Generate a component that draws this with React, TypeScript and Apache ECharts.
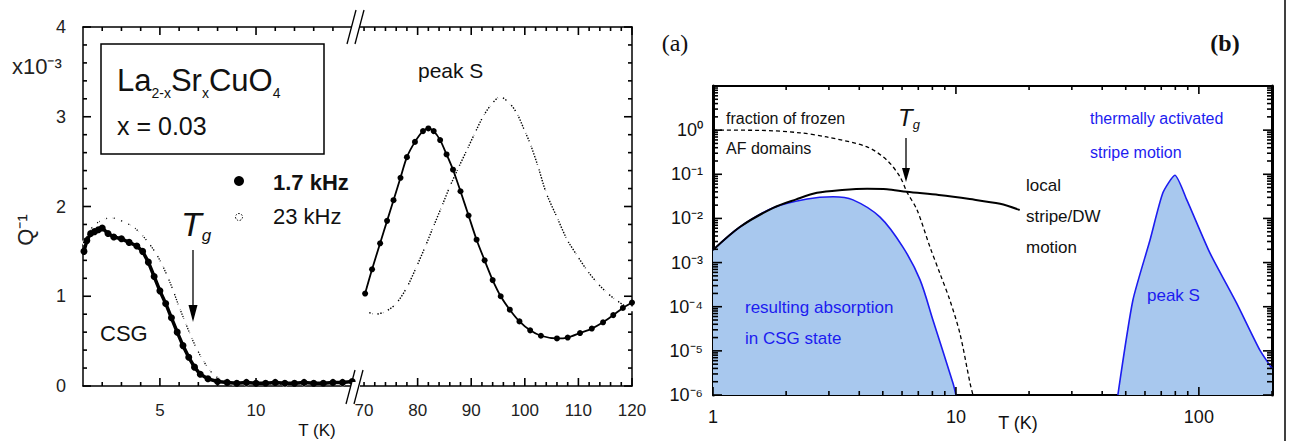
import React, { useEffect, useRef } from 'react';
import * as echarts from 'echarts';

const FONT = '"Liberation Sans", Arial, Helvetica, sans-serif';
const SERIF = '"Liberation Serif", "Times New Roman", serif';

// ---------- Left panel: Q^-1 (x10^-3) vs T ----------
// low-temperature segment (1..15 K)
const lowT17 = [1.05, 1.2, 1.4, 1.6, 1.8, 2.0, 2.3, 2.6, 3.0, 3.4, 3.8, 4.1, 4.4, 4.7, 5.0, 5.3, 5.6, 5.9, 6.2, 6.5, 6.8, 7.1, 7.5, 8.0, 8.5, 9.0, 9.5, 10, 10.5, 11, 11.5, 12, 12.5, 13, 13.5, 14, 14.5, 15];
const lowQ17 = [1.50, 1.62, 1.70, 1.72, 1.74, 1.76, 1.70, 1.66, 1.64, 1.60, 1.56, 1.50, 1.38, 1.22, 1.06, 0.92, 0.76, 0.60, 0.45, 0.32, 0.21, 0.13, 0.08, 0.05, 0.04, 0.03, 0.04, 0.03, 0.03, 0.04, 0.03, 0.03, 0.04, 0.03, 0.03, 0.04, 0.04, 0.05];
const lowT23 = [1.1, 1.3, 1.6, 2.0, 2.4, 2.8, 3.2, 3.6, 4.0, 4.4, 4.8, 5.1, 5.4, 5.7, 6.0, 6.3, 6.6, 6.9, 7.2, 7.5, 7.8, 8.2, 8.8, 9.5, 10.5, 11.5, 12.5, 13.5, 14.5];
const lowQ23 = [1.60, 1.72, 1.80, 1.85, 1.88, 1.86, 1.82, 1.78, 1.70, 1.60, 1.48, 1.36, 1.22, 1.06, 0.88, 0.72, 0.56, 0.42, 0.30, 0.20, 0.12, 0.07, 0.04, 0.03, 0.03, 0.02, 0.03, 0.03, 0.03];
// high-temperature segment (70..120 K)
const highT17 = [70.2, 71.5, 73, 74.3, 75.5, 76.8, 78, 79.5, 81, 82, 83, 84.2, 85.4, 86.6, 88, 89.5, 91, 92.5, 94, 95.5, 97.2, 99, 101, 103, 106, 108, 110.3, 112.5, 114.6, 116.5, 118.3, 120];
const highQ17 = [1.03, 1.30, 1.59, 1.84, 2.07, 2.32, 2.55, 2.72, 2.84, 2.87, 2.84, 2.74, 2.58, 2.41, 2.17, 1.90, 1.63, 1.40, 1.18, 1.00, 0.85, 0.72, 0.62, 0.56, 0.53, 0.54, 0.59, 0.64, 0.71, 0.79, 0.87, 0.93];
const highT23 = [70.5, 72, 74, 76, 78, 79.8, 81.4, 82.9, 84.5, 86, 87.6, 89.2, 90.7, 92.2, 93.8, 95.4, 97, 98.5, 100, 101, 102.5, 104, 106, 107.9, 109.8, 111.6, 113.5, 115.3, 117, 119, 120];
const highQ23 = [0.83, 0.80, 0.83, 0.92, 1.10, 1.33, 1.55, 1.77, 2.00, 2.22, 2.43, 2.63, 2.82, 3.00, 3.14, 3.22, 3.16, 3.04, 2.84, 2.70, 2.44, 2.15, 1.88, 1.63, 1.45, 1.29, 1.15, 1.04, 0.96, 0.88, 0.86];

// left panel ticks
const lowMajor = [5, 10];
const lowMinor = [2, 3, 4, 6, 7, 8, 9, 11, 12, 13, 14, 15];
const highMajor = [80, 90, 100, 110, 120];
const highMinor = [70, 72, 74, 76, 78, 82, 84, 86, 88, 92, 94, 96, 98, 102, 104, 106, 108, 112, 114, 116, 118];
const highLabels = [70, 80, 90, 100, 110, 120];
const qMajor = [0, 1, 2, 3, 4];
const qMinor = [0.2, 0.4, 0.6, 0.8, 1.2, 1.4, 1.6, 1.8, 2.2, 2.4, 2.6, 2.8, 3.2, 3.4, 3.6, 3.8];

// ---------- Right panel: schematic, log-log ----------
const fracT = [1, 1.56, 2.28, 2.94, 4.31, 5.2, 5.89, 6.28, 6.92, 7.82, 8.59, 9.44, 10.38, 11.43, 11.75];
const fracV = [1.0, 0.99, 0.87, 0.70, 0.417, 0.209, 0.087, 0.040, 0.0155, 0.00224, 5.7e-4, 1.41e-4, 2.5e-5, 1.86e-6, 1e-6];
const localT = [1, 1.29, 1.77, 2.2, 2.68, 3.4, 4.31, 5.2, 6.28, 8.5, 11.4, 15.2, 18.3];
const localV = [1.93e-3, 6.4e-3, 0.0174, 0.027, 0.038, 0.044, 0.047, 0.046, 0.040, 0.034, 0.0275, 0.0214, 0.0155];
const csgT = [1, 1.29, 1.77, 2.44, 3.12, 3.77, 4.87, 6.05, 7.11, 8.04, 9.72, 10.0];
const csgV = [1.93e-3, 6.4e-3, 0.0174, 0.0275, 0.031, 0.0263, 0.0107, 2.24e-3, 4.1e-4, 5.0e-5, 1.86e-6, 1e-6];
const peakT = [46.4, 53.5, 62.9, 71.1, 79.7, 89.3, 111, 143, 178, 200];
const peakV = [1e-6, 1.4e-4, 3.2e-3, 0.038, 0.095, 0.026, 1.66e-3, 1.2e-4, 1.05e-5, 4e-6];

const logXMajorRaw = [1, 10, 100];
const logXMinorRaw = [2, 3, 4, 5, 6, 7, 8, 9, 20, 30, 40, 50, 60, 70, 80, 90, 200];
const logYLabels = [-6, -5, -4, -3, -2, -1, 0];
const logYMajor = [-6, -5, -4, -3, -2, -1, 0, 1];
const logYMinorMult = [2, 3, 4, 5, 6, 7, 8, 9];

const SUP: Record<string, string> = { '-': '⁻', '0': '⁰', '1': '¹', '2': '²', '3': '³', '4': '⁴', '5': '⁵', '6': '⁶', '7': '⁷', '8': '⁸', '9': '⁹' };
const sup = (s: string) => s.split('').map((c) => SUP[c] || c).join('');

const pairs = (xs: number[], ys: number[]) => xs.map((x, i) => [x, ys[i]]);
const logPairs = (xs: number[], ys: number[]) => xs.map((x, i) => [Math.log10(x), Math.log10(ys[i])]);

function axis(grid: number, min: number, max: number, position: string, o: any = {}) {
  const a: any = {
    type: 'value', gridIndex: grid, min, max, position,
    axisLine: { show: o.line !== false, onZero: false, lineStyle: { color: '#000', width: o.lineWidth ?? 1.5 } },
    axisTick: { show: false },
    axisLabel: { show: false },
    splitLine: { show: false },
  };
  if (o.labels) {
    a.axisLabel = {
      show: true, customValues: o.labels, margin: o.margin ?? 10, fontSize: o.fontSize ?? 17,
      color: o.color ?? '#222', fontFamily: FONT,
    };
    if (o.fmt) a.axisLabel.formatter = o.fmt;
  }
  return a;
}

const GRIDS = [
  { left: 83, top: 27, width: 273, height: 359 },
  { left: 356, top: 27, width: 276, height: 359 },
  { left: 713, top: 86, width: 559, height: 309 },
];

const LOW_MIN = 1, LOW_MAX = 15.2, HIGH_MIN = 68.5, HIGH_MAX = 120;
const LX_MAX = Math.log10(200);
// axis ranges per grid: [xMin, xMax, yMin, yMax]
const RANGES = [
  [LOW_MIN, LOW_MAX, 0, 4],
  [HIGH_MIN, HIGH_MAX, 0, 4],
  [0, LX_MAX, -6, 1],
];
const logXMajor = logXMajorRaw.map((v) => Math.log10(v));
const logXMinor = logXMinorRaw.map((v) => Math.log10(v));
const logYMinor: number[] = [];
for (const n of logYLabels) for (const k of logYMinorMult) logYMinor.push(Math.log10(k) + n);

const xAxes = [
  axis(0, LOW_MIN, LOW_MAX, 'bottom', { labels: lowMajor, margin: 16 }),
  axis(0, LOW_MIN, LOW_MAX, 'top'),
  axis(1, HIGH_MIN, HIGH_MAX, 'bottom', { labels: highLabels, margin: 16 }),
  axis(1, HIGH_MIN, HIGH_MAX, 'top'),
  axis(2, 0, LX_MAX, 'bottom', {
    lineWidth: 2, labels: logXMajor, margin: 13, fontSize: 18, color: '#111',
    fmt: (v: number) => String(Math.round(Math.pow(10, v))),
  }),
  axis(2, 0, LX_MAX, 'top', { lineWidth: 2 }),
];

const yAxes = [
  axis(0, 0, 4, 'left', { labels: qMajor, margin: 17, fontSize: 18 }),
  axis(1, 0, 4, 'right'),
  axis(2, -6, 1, 'left', {
    lineWidth: 3, labels: logYLabels, margin: 10, fontSize: 18, color: '#111',
    fmt: (v: number) => '10' + sup(String(Math.round(v))),
  }),
  axis(2, -6, 1, 'right', { lineWidth: 3 }),
];

// tick specs: [axis dim, grid, values, length, sides]
const TICKS: any[] = [
  ['x', 0, lowMajor, 8, ['top', 'bottom']],
  ['x', 0, lowMinor, 4, ['top', 'bottom']],
  ['y', 0, qMajor, 8, ['left']],
  ['y', 0, qMinor, 4, ['left']],
  ['x', 1, highMajor, 8, ['top', 'bottom']],
  ['x', 1, highMinor, 4, ['top', 'bottom']],
  ['y', 1, qMajor, 8, ['right']],
  ['y', 1, qMinor, 4, ['right']],
  ['x', 2, logXMajor, 8, ['top', 'bottom']],
  ['x', 2, logXMinor, 4, ['top', 'bottom']],
  ['y', 2, logYMajor, 9, ['left', 'right']],
  ['y', 2, logYMinor, 5, ['left', 'right']],
];

const BLUE = '#1c1cf0';
const FILL = '#a8c8ee';

const series: any[] = [
  {
    name: '1.7 kHz', type: 'line', xAxisIndex: 0, yAxisIndex: 0, data: pairs(lowT17, lowQ17),
    symbol: 'circle', symbolSize: 7, itemStyle: { color: '#000' }, lineStyle: { color: '#000', width: 3.5 }, z: 4,
  },
  {
    name: '23 kHz', type: 'line', xAxisIndex: 0, yAxisIndex: 0, data: pairs(lowT23, lowQ23),
    symbol: 'emptyCircle', symbolSize: 4, itemStyle: { color: '#fff', borderColor: '#000', borderWidth: 1 },
    lineStyle: { color: '#000', width: 1.3, type: 'dotted' }, z: 3,
  },
  {
    name: '1.7 kHz', type: 'line', xAxisIndex: 2, yAxisIndex: 1, data: pairs(highT17, highQ17), smooth: 0.3,
    symbol: 'circle', symbolSize: 6, itemStyle: { color: '#000' }, lineStyle: { color: '#000', width: 1.8 }, z: 4,
  },
  {
    name: '23 kHz', type: 'line', xAxisIndex: 2, yAxisIndex: 1, data: pairs(highT23, highQ23), smooth: 0.3,
    symbol: 'emptyCircle', symbolSize: 3, itemStyle: { color: '#fff', borderColor: '#000', borderWidth: 0.8 },
    lineStyle: { color: '#000', width: 1.4, type: 'dotted' }, z: 3,
  },
  {
    name: 'resulting absorption in CSG state', type: 'line', xAxisIndex: 4, yAxisIndex: 2, data: logPairs(csgT, csgV),
    smooth: 0.3, symbol: 'none', lineStyle: { color: BLUE, width: 1.6 },
    areaStyle: { color: FILL, opacity: 1, origin: 'start' }, z: 1,
  },
  {
    name: 'peak S', type: 'line', xAxisIndex: 4, yAxisIndex: 2, data: logPairs(peakT, peakV),
    smooth: 0.2, symbol: 'none', lineStyle: { color: BLUE, width: 1.6 },
    areaStyle: { color: FILL, opacity: 1, origin: 'start' }, z: 1,
  },
  {
    name: 'local stripe/DW motion', type: 'line', xAxisIndex: 4, yAxisIndex: 2, data: logPairs(localT, localV),
    smooth: 0.3, symbol: 'none', lineStyle: { color: '#000', width: 2 }, z: 4,
  },
  {
    name: 'fraction of frozen AF domains', type: 'line', xAxisIndex: 4, yAxisIndex: 2, data: logPairs(fracT, fracV),
    smooth: 0.3, symbol: 'none', lineStyle: { color: '#000', width: 1.3, type: [4, 3] }, z: 4,
  },
];

const txt = (x: number, y: number, text: string, size: number, extra: any = {}) => ({
  type: 'text', x, y, z: 30, silent: true,
  style: { text, fontSize: size, fontFamily: FONT, fill: '#111', verticalAlign: 'middle', align: 'left', ...extra },
});
const seg = (x1: number, y1: number, x2: number, y2: number, w = 1.3) => ({
  type: 'line', z: 30, shape: { x1, y1, x2, y2 }, style: { stroke: '#000', lineWidth: w },
});
// a tick drawn as a small filled rectangle
const tickRect = (x: number, y: number, w: number, h: number) => ({
  type: 'rect', z: 35, shape: { x, y, width: w, height: h }, style: { fill: '#000' },
});

// tick marks placed with the same linear mapping as each grid's axes
function buildTicks() {
  const els: any[] = [];
  const T = 1.6; // tick thickness
  TICKS.forEach((t: any) => {
    const dim = t[0], g = t[1], values = t[2], len = t[3], sides = t[4];
    const r = GRIDS[g];
    const x0 = RANGES[g][0], x1 = RANGES[g][1], y0 = RANGES[g][2], y1 = RANGES[g][3];
    const bottom = r.top + r.height;
    const right = r.left + r.width;
    values.forEach((v: number) => {
      if (dim === 'x') {
        const p = r.left + ((v - x0) / (x1 - x0)) * r.width;
        if (sides.indexOf('bottom') >= 0) els.push(tickRect(p - T / 2, bottom - len, T, len));
        if (sides.indexOf('top') >= 0) els.push(tickRect(p - T / 2, r.top, T, len));
      } else {
        const p = bottom - ((v - y0) / (y1 - y0)) * r.height;
        if (sides.indexOf('left') >= 0) els.push(tickRect(r.left, p - T / 2, len, T));
        if (sides.indexOf('right') >= 0) els.push(tickRect(right - len, p - T / 2, len, T));
      }
    });
  });
  return els;
}

const graphic: any[] = [
  // axis breaks (left panel)
  { type: 'rect', z: 36, shape: { x: 351, y: 23, width: 9, height: 8 }, style: { fill: '#fff' } },
  { type: 'rect', z: 36, shape: { x: 351, y: 382, width: 9, height: 8 }, style: { fill: '#fff' } },
  { ...seg(347, 44, 356, 10), z: 37 },
  { ...seg(355, 44, 364, 10), z: 37 },
  { ...seg(346, 404, 355, 370), z: 37 },
  { ...seg(354, 404, 363, 370), z: 37 },
  // compound box
  { type: 'rect', z: 31, shape: { x: 101, y: 44, width: 223, height: 110 }, style: { fill: '#fff', stroke: '#000', lineWidth: 1.5 } },
  {
    type: 'text', x: 117, y: 80, z: 32, silent: true,
    style: {
      text: '{b|La}{s|2-x}{b|Sr}{s|x}{b|CuO}{s|4}', fill: '#111', verticalAlign: 'middle', align: 'left',
      rich: {
        b: { fontSize: 31, fontFamily: FONT, fill: '#111', lineHeight: 40 },
        s: { fontSize: 14, fontFamily: FONT, fill: '#111', verticalAlign: 'bottom', lineHeight: 14 },
      },
    },
  },
  { ...txt(117, 126, 'x = 0.03', 25), z: 32 },
  // legend
  { type: 'circle', z: 30, shape: { cx: 239, cy: 181, r: 5 }, style: { fill: '#000' } },
  txt(273, 182, '1.7 kHz', 22, { fontWeight: 'bold' }),
  { type: 'circle', z: 30, shape: { cx: 239, cy: 217, r: 3.5 }, style: { fill: '#fff', stroke: '#000', lineWidth: 1, lineDash: [1.5, 1.5] } },
  txt(273, 216, '23 kHz', 22),
  // Tg (left)
  {
    type: 'text', x: 181, y: 224, z: 30, silent: true,
    style: {
      text: '{t|T}{g|g}', verticalAlign: 'middle', align: 'left',
      rich: {
        t: { fontSize: 34, fontFamily: FONT, fontStyle: 'italic', fill: '#111', lineHeight: 40 },
        g: { fontSize: 17, fontFamily: FONT, fontStyle: 'italic', fill: '#111', verticalAlign: 'bottom', lineHeight: 18 },
      },
    },
  },
  seg(193, 250, 193, 308),
  { type: 'polygon', z: 30, shape: { points: [[188.5, 305], [197.5, 305], [193, 322]] }, style: { fill: '#000' } },
  txt(100, 333, 'CSG', 22),
  txt(418, 70, 'peak S', 21),
  // left axis titles
  txt(12, 66, 'x10' + sup('-3'), 22, { fill: '#222' }),
  { ...txt(25, 230, 'Q' + sup('-1'), 22, { align: 'center', fill: '#222' }), rotation: Math.PI / 2 },
  txt(317, 430, 'T (K)', 17, { align: 'center' }),
  // right panel
  txt(675, 43, '(a)', 24, { fontFamily: SERIF, align: 'center' }),
  txt(1225, 43, '(b)', 24, { fontFamily: SERIF, align: 'center', fontWeight: 'bold' }),
  txt(726, 118, 'fraction of frozen', 16),
  txt(726, 148, 'AF domains', 16),
  {
    type: 'text', x: 898, y: 117, z: 30, silent: true,
    style: {
      text: '{t|T}{g|g}', verticalAlign: 'middle', align: 'left',
      rich: {
        t: { fontSize: 24, fontFamily: FONT, fontStyle: 'italic', fill: '#111', lineHeight: 28 },
        g: { fontSize: 13, fontFamily: FONT, fontStyle: 'italic', fill: '#111', verticalAlign: 'bottom', lineHeight: 13 },
      },
    },
  },
  seg(906, 138, 906, 172),
  { type: 'polygon', z: 30, shape: { points: [[902, 168], [910, 168], [906, 182]] }, style: { fill: '#000' } },
  txt(1090, 118, 'thermally activated', 16, { fill: BLUE }),
  txt(1090, 152, 'stripe motion', 16, { fill: BLUE }),
  txt(1026, 185, 'local', 17),
  txt(1026, 216, 'stripe/DW', 17),
  txt(1026, 247, 'motion', 17),
  txt(745, 307, 'resulting absorption', 17, { fill: BLUE }),
  txt(745, 338, 'in CSG state', 17, { fill: BLUE }),
  txt(1147, 295, 'peak S', 17, { fill: BLUE }),
  txt(1018, 423, 'T (K)', 18, { align: 'center' }),
  // right frame line
  seg(1285, 0, 1285, 441, 1.5),
  // tick marks
  ...buildTicks(),
];

const option: any = {
  animation: false,
  backgroundColor: '#fff',
  textStyle: { fontFamily: FONT },
  grid: GRIDS,
  xAxis: xAxes,
  yAxis: yAxes,
  series,
  graphic,
};

export default function App() {
  const ref = useRef<HTMLDivElement>(null);
  useEffect(() => {
    if (!ref.current) return;
    const chart = echarts.init(ref.current, undefined, { renderer: 'svg' });
    chart.setOption(option);
    return () => chart.dispose();
  }, []);
  return (
    <div
      ref={ref}
      style={{ position: 'absolute', left: 0, top: 0, width: 1293, height: 441, background: '#fff' }}
    />
  );
}
